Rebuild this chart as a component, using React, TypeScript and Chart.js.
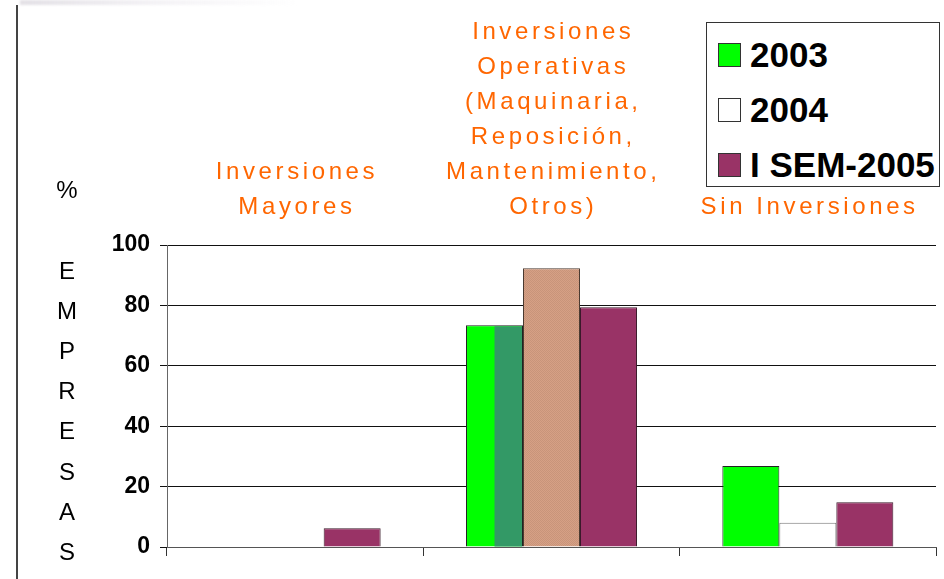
import React, { useEffect, useRef } from "react";
import { Chart, registerables } from "chart.js";

Chart.register(...registerables);

const categories: string[][] = [
  ["Inversiones", "Mayores"],
  ["Inversiones", "Operativas", "(Maquinaria,", "Reposición,", "Mantenimiento,", "Otros)"],
  ["Sin Inversiones"],
];
const seriesLabels = ["2003", "2004", "I SEM-2005"];
const values2003 = [0, 73.4, 26.8];
const values2004 = [0, 92.3, 8];
const valuesSem2005 = [6.2, 79.4, 14.8];
const yTickMin = 0;
const yTickMax = 100;
const yTickStep = 20;
const yTitleLetters = ["E", "M", "P", "R", "E", "S", "A", "S"];

const legendColors = ["#00FF00", "#FFFFFF", "#993366"];
const ORANGE = "#FF6600";
const FONT = "'Liberation Sans', Arial, sans-serif";

function makeTanPattern(): CanvasPattern | string {
  const c = document.createElement("canvas");
  c.width = 2;
  c.height = 2;
  const g = c.getContext("2d");
  if (!g) return "#D09A7E";
  g.fillStyle = "#D6A085";
  g.fillRect(0, 0, 2, 2);
  g.fillStyle = "#C8947A";
  g.fillRect(0, 0, 1, 1);
  g.fillRect(1, 1, 1, 1);
  const p = g.createPattern(c, "repeat");
  return p || "#D09A7E";
}

const categoryLabelPlugin = {
  id: "categoryLabels",
  afterDraw(chart: any) {
    const ctx = chart.ctx as CanvasRenderingContext2D;
    const xs = chart.scales.x;
    ctx.save();
    ctx.font = `24px ${FONT}`;
    ctx.fillStyle = ORANGE;
    ctx.textAlign = "center";
    ctx.textBaseline = "alphabetic";
    const spacing = 3.6;
    (ctx as any).letterSpacing = `${spacing}px`;
    const lineH = 35;
    const baseY = 214;
    categories.forEach((lines, i) => {
      const cx = xs.getPixelForValue(i) + spacing / 2;
      const n = lines.length;
      lines.forEach((line, j) => {
        ctx.fillText(line, cx, baseY - (n - 1 - j) * lineH);
      });
    });
    ctx.restore();
  },
};

const splitBarPlugin = {
  id: "splitBar",
  afterDatasetsDraw(chart: any) {
    const meta = chart.getDatasetMeta(0);
    const el = meta.data[1];
    if (!el) return;
    const { x, y, base, width } = el.getProps(["x", "y", "base", "width"], true);
    const ctx = chart.ctx as CanvasRenderingContext2D;
    ctx.save();
    ctx.fillStyle = "#339966";
    ctx.fillRect(x, y + 1, width / 2 - 1, base - y - 1);
    ctx.restore();
  },
};

export default function App() {
  const canvasRef = useRef<HTMLCanvasElement | null>(null);

  useEffect(() => {
    if (!canvasRef.current) return;
    const tan = makeTanPattern();
    const chart = new Chart(canvasRef.current, {
      type: "bar",
      data: {
        labels: categories.map((c) => c.join(" ")),
        datasets: [
          {
            label: seriesLabels[0],
            data: values2003,
            backgroundColor: "#00FF00",
            borderColor: "#222",
            borderWidth: 1,
          },
          {
            label: seriesLabels[1],
            data: values2004,
            backgroundColor: ["#FFFFFF", tan as any, "#FFFFFF"],
            borderColor: ["#777", "#4a3a30", "#777"],
            borderWidth: 1,
          },
          {
            label: seriesLabels[2],
            data: valuesSem2005,
            backgroundColor: "#993366",
            borderColor: "#3a1a2a",
            borderWidth: 1,
          },
        ],
      },
      options: {
        responsive: false,
        animation: false,
        events: [],
        layout: { padding: { top: 245, right: 8, left: 0, bottom: 0 } },
        datasets: {
          bar: { categoryPercentage: 0.667, barPercentage: 1 },
        },
        plugins: {
          legend: { display: false },
          title: { display: false },
          tooltip: { enabled: false },
        },
        scales: {
          x: {
            offset: true,
            ticks: { display: false },
            grid: {
              offset: true,
              drawOnChartArea: true,
              color: (ctx: any) => (ctx.index === categories.length ? "#bbbbbb" : "rgba(0,0,0,0)"),
              tickColor: "#333",
              tickLength: 9,
              lineWidth: 1,
            },
            border: { display: true, color: "#555", width: 1 },
            afterFit: (scale: any) => {
              scale.height = 32;
            },
          },
          y: {
            min: yTickMin,
            max: yTickMax,
            ticks: {
              stepSize: yTickStep,
              color: "#000",
              padding: 10,
              font: { family: FONT, size: 23, weight: "bold" },
            },
            grid: {
              color: "#111",
              tickColor: "#111",
              tickLength: 7,
              lineWidth: 1,
            },
            border: { display: true, color: "#666", width: 1 },
            afterFit: (scale: any) => {
              scale.width = 167;
            },
          },
        },
      },
      plugins: [splitBarPlugin, categoryLabelPlugin],
    });
    return () => chart.destroy();
  }, []);

  return (
    <div
      style={{
        position: "absolute",
        left: 0,
        top: 0,
        width: 944,
        height: 579,
        background: "#fff",
        overflow: "hidden",
        fontFamily: FONT,
      }}
    >
      <canvas ref={canvasRef} width={944} height={579} style={{ position: "absolute", left: 0, top: 0 }} />
      <div
        style={{
          position: "absolute",
          left: 20,
          top: 0,
          width: 280,
          height: 5,
          background: "linear-gradient(90deg, rgba(200,195,205,0.5), rgba(220,215,225,0.3), rgba(255,255,255,0))",
          filter: "blur(1px)",
        }}
      />
      <div style={{ position: "absolute", left: 16, top: 5, width: 2, height: 574, background: "#444" }} />
      <div
        style={{
          position: "absolute",
          left: 37,
          width: 60,
          top: 190 - 14,
          height: 28,
          lineHeight: "28px",
          textAlign: "center",
          fontSize: 24,
          color: "#000",
        }}
      >
        %
      </div>
      {yTitleLetters.map((l, i) => (
        <div
          key={i}
          style={{
            position: "absolute",
            left: 37,
            width: 60,
            top: 271 + i * 40.1 - 14,
            height: 28,
            lineHeight: "28px",
            textAlign: "center",
            fontSize: 24,
            color: "#000",
          }}
        >
          {l}
        </div>
      ))}
      <div
        style={{
          position: "absolute",
          left: 706,
          top: 22,
          width: 234,
          height: 165,
          border: "1.5px solid #333",
          boxSizing: "border-box",
          background: "#fff",
        }}
      >
        {seriesLabels.map((s, i) => (
          <div
            key={s}
            style={{
              position: "absolute",
              left: 0,
              top: 12 + i * 55,
              height: 40,
              display: "flex",
              alignItems: "center",
              whiteSpace: "nowrap",
            }}
          >
            <div
              style={{
                marginLeft: 11,
                width: 23,
                height: 24,
                boxSizing: "border-box",
                border: "1px solid #333",
                background: legendColors[i],
              }}
            />
            <div
              style={{
                marginLeft: 9,
                fontSize: 35,
                fontWeight: "bold",
                color: "#000",
                lineHeight: "40px",
              }}
            >
              {s}
            </div>
          </div>
        ))}
      </div>
    </div>
  );
}
